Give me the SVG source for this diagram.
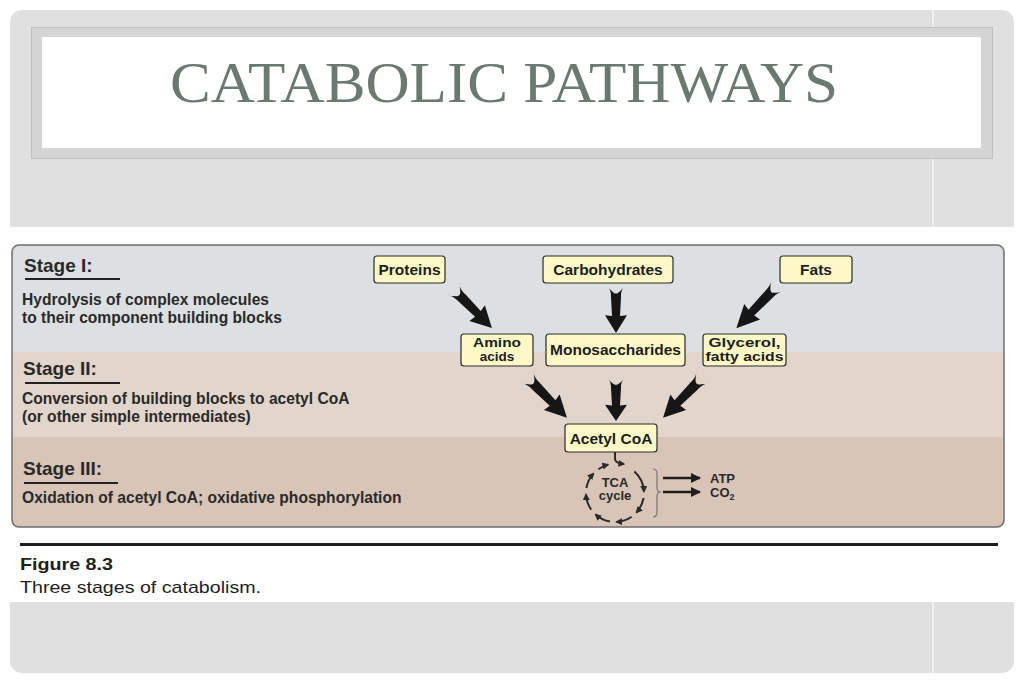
<svg xmlns="http://www.w3.org/2000/svg" xmlns:xlink="http://www.w3.org/1999/xlink" width="1024" height="683" viewBox="0 0 1024 683">
<style>
.node rect{fill:#fdf8c6;stroke:#2b2b2b;stroke-width:1.2}
.nt{font-family:"Liberation Sans",Arial,sans-serif;font-weight:bold;font-size:15.5px;fill:#1e1e1e;text-anchor:middle}
.nt2{font-family:"Liberation Sans",Arial,sans-serif;font-weight:bold;font-size:13.5px;fill:#1e1e1e;text-anchor:middle}
.stage{font-family:"Liberation Sans",Arial,sans-serif;font-weight:bold;font-size:19px;fill:#2a2a2a}
.desc{font-family:"Liberation Sans",Arial,sans-serif;font-weight:bold;font-size:15.6px;fill:#2a2a2a}
.ul{stroke:#222;stroke-width:2}
.arr{fill:#161616}
.tca{fill:none;stroke:#2a2a2a;stroke-width:2;marker-end:url(#ah)}
.small{font-family:"Liberation Sans",Arial,sans-serif;font-weight:bold;font-size:13px;fill:#2a2a2a}
</style>
<defs>
<path id="arr" d="M0,-9 C4,-5 8,-5 12,-5 L32,-4 L31,-11 L50,0 L31,11 L32,4 L12,5 C8,5 4,5 0,9 C6,4 8,2 8,0 C8,-2 6,-4 0,-9 Z"/>
<marker id="ah" viewBox="0 0 10 10" refX="8" refY="5" markerWidth="3.5" markerHeight="3.5" orient="auto" markerUnits="strokeWidth">
<path d="M0,0 L10,5 L0,10 Z" fill="#2a2a2a"/>
</marker>
<marker id="ah2" viewBox="0 0 10 10" refX="9" refY="5" markerWidth="4" markerHeight="4" orient="auto" markerUnits="strokeWidth">
<path d="M0,0 L10,5 L0,10 Z" fill="#1e1e1e"/>
</marker>
</defs>
<rect width="1024" height="683" fill="#ffffff"/>
<rect x="10" y="10" width="1004" height="663" rx="12" fill="#e0e0e0"/>
<line x1="933" y1="10" x2="933" y2="673" stroke="#f4f4f4" stroke-width="1.5"/>
<rect x="0" y="227" width="1024" height="375" fill="#ffffff"/>
<g id="title">
<rect x="31.5" y="27.5" width="961" height="131" fill="#d4d4d4" stroke="#c2c2c2" stroke-width="1"/>
<rect x="42" y="37" width="939" height="111" fill="#ffffff"/>
<text x="504" y="102" text-anchor="middle" font-family="Liberation Serif,'Times New Roman',serif" font-size="57" fill="#6a7a70" textLength="668" lengthAdjust="spacingAndGlyphs">CATABOLIC PATHWAYS</text>
</g>
<g id="figure-bg">
<clipPath id="fc"><rect x="12" y="245" width="992" height="282" rx="7"/></clipPath>
<g clip-path="url(#fc)">
<rect x="12" y="245" width="992" height="107" fill="#dde0e3"/>
<rect x="12" y="352" width="992" height="85" fill="#e2d5cb"/>
<rect x="12" y="437" width="992" height="90" fill="#d8c5b8"/>
</g>
<rect x="12" y="245" width="992" height="282" rx="7" fill="none" stroke="#6e6e6e" stroke-width="1.5"/>
</g>
<g id="stage1">
<text class="stage" x="24" y="272">Stage I:</text>
<line class="ul" x1="25" y1="279" x2="120" y2="279"/>
<text class="desc" x="22" y="305">Hydrolysis of complex molecules</text>
<text class="desc" x="22" y="323">to their component building blocks</text>
</g>
<g id="stage2">
<text class="stage" x="23" y="375">Stage II:</text>
<line class="ul" x1="25" y1="383" x2="120" y2="383"/>
<text class="desc" x="22" y="404">Conversion of building blocks to acetyl CoA</text>
<text class="desc" x="22" y="422">(or other simple intermediates)</text>
</g>
<g id="stage3">
<text class="stage" x="23" y="475">Stage III:</text>
<line class="ul" x1="24" y1="483" x2="118" y2="483"/>
<text class="desc" x="22" y="503">Oxidation of acetyl CoA; oxidative phosphorylation</text>
</g>
<g id="connectors">
<use href="#arr" class="arr" transform="translate(453,289) rotate(45) scale(1.1,1)"/>
<use href="#arr" class="arr" transform="translate(616,286) rotate(90) scale(0.94,1)"/>
<use href="#arr" class="arr" transform="translate(778,285) rotate(134) scale(1.2,1)"/>
<use href="#arr" class="arr" transform="translate(527,377) rotate(45.5) scale(1.14,1)"/>
<use href="#arr" class="arr" transform="translate(616,378) rotate(90) scale(0.86,1)"/>
<use href="#arr" class="arr" transform="translate(703,377) rotate(134.5) scale(1.14,1)"/>
<path d="M615,452 L615,459 Q615,463 624,464" fill="none" stroke="#2a2a2a" stroke-width="2" marker-end="url(#ah)"/>
<path d="M653,469 Q657,469 657,474 L657,488 Q657,492 661,492 Q657,492 657,496 L657,512 Q657,517 653,517" fill="none" stroke="#777" stroke-width="1.2"/>
<line x1="663" y1="478" x2="700" y2="478" stroke="#1e1e1e" stroke-width="2.5" marker-end="url(#ah2)"/>
<line x1="663" y1="492" x2="700" y2="492" stroke="#1e1e1e" stroke-width="2.5" marker-end="url(#ah2)"/>
</g>
<g id="tca">
<path class="tca" d="M634.4,471.4 A29,29 0 0 1 644,491.5"/>
<path class="tca" d="M643.6,498 A29,29 0 0 1 636.5,512.4"/>
<path class="tca" d="M631.6,516.8 A29,29 0 0 1 616.5,522"/>
<path class="tca" d="M610,521.6 A29,29 0 0 1 595.6,514.5"/>
<path class="tca" d="M591.2,509.6 A29,29 0 0 1 586,494.5"/>
<path class="tca" d="M586.4,488 A29,29 0 0 1 593.4,473.6"/>
<path class="tca" d="M598.4,469.2 A29,29 0 0 1 608,464.6"/>
<text class="small" x="615" y="486.5" text-anchor="middle" font-size="11">TCA</text>
<text class="small" x="615" y="500" text-anchor="middle" font-size="11">cycle</text>
</g>
<g id="atp"><text class="small" x="710" y="483">ATP</text></g>
<g id="co2"><text class="small" x="710" y="497">CO<tspan font-size="9" dy="3">2</tspan></text></g>
<g id="proteins" class="node"><rect x="374" y="256" width="71" height="27" rx="3"/><text class="nt" x="409.5" y="275">Proteins</text></g>
<g id="carbohydrates" class="node"><rect x="543" y="256" width="130" height="27" rx="3"/><text class="nt" x="608" y="275">Carbohydrates</text></g>
<g id="fats" class="node"><rect x="780" y="256" width="72" height="27" rx="3"/><text class="nt" x="816" y="275">Fats</text></g>
<g id="amino" class="node"><rect x="461" y="334" width="72" height="32" rx="3"/><text class="nt2" x="497" y="346.5" textLength="48" lengthAdjust="spacingAndGlyphs">Amino</text><text class="nt2" x="497" y="360.5">acids</text></g>
<g id="mono" class="node"><rect x="546" y="334" width="139" height="32" rx="3"/><text class="nt" x="615.5" y="355">Monosaccharides</text></g>
<g id="glycerol" class="node"><rect x="703" y="334" width="83" height="32" rx="3"/><text class="nt2" x="744.5" y="346.5" textLength="72" lengthAdjust="spacingAndGlyphs">Glycerol,</text><text class="nt2" x="744.5" y="360.5" textLength="78" lengthAdjust="spacingAndGlyphs">fatty acids</text></g>
<g id="acetyl" class="node"><rect x="565" y="424" width="92" height="28" rx="3"/><text class="nt" x="611" y="443.5">Acetyl CoA</text></g>
<g id="caption">
<line x1="20" y1="544.5" x2="998" y2="544.5" stroke="#1e1e1e" stroke-width="3"/>
<text x="20" y="570" font-family="Liberation Sans,Arial,sans-serif" font-weight="bold" font-size="17" fill="#1e1e1e" textLength="93" lengthAdjust="spacingAndGlyphs">Figure 8.3</text>
<text x="20" y="593" font-family="Liberation Sans,Arial,sans-serif" font-size="17" fill="#1e1e1e" textLength="241" lengthAdjust="spacingAndGlyphs">Three stages of catabolism.</text>
</g>
</svg>
